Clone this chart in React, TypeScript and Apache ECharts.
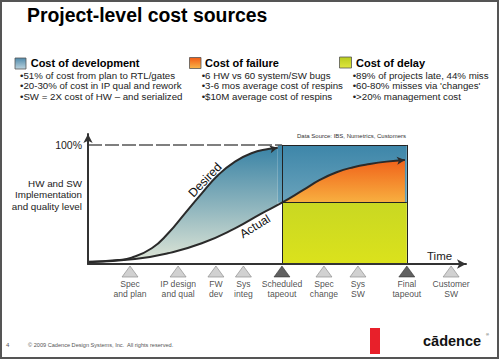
import React, { useEffect, useRef } from 'react';
import * as echarts from 'echarts';

const FONT = '"Liberation Sans", Arial, Helvetica, sans-serif';

const titleText = 'Project-level cost sources';
const legendNames = ['Cost of development', 'Cost of failure', 'Cost of delay'];
const legendBullets = [
  ['•51% of cost from plan to RTL/gates', '•20-30% of cost in IP qual and rework', '•SW = 2X cost of HW – and serialized'],
  ['•6 HW vs 60 system/SW bugs', '•3-6 mos average cost of respins', '•$10M average cost of respins'],
  ['•89% of projects late, 44% miss', "•60-80% misses via 'changes'", '•>20% management cost'],
];
const yAxisTitle = 'HW and SW\nImplementation\nand quality level';
const sourceText = 'Data Source: IBS, Numetrics, Customers';

const milestoneNames = [
  'Spec\nand plan', 'IP design\nand qual', 'FW\ndev', 'Sys\ninteg', 'Scheduled\ntapeout',
  'Spec\nchange', 'Sys\nSW', 'Final\ntapeout', 'Customer\nSW',
];
const milestoneX = [11.0, 23.6, 33.5, 40.7, 50.8, 61.8, 70.7, 83.5, 95.1];
const milestoneDark = [false, false, false, false, true, false, false, true, false];

const desiredX = [0, 7.85, 11.4, 16.7, 21.0, 25.4, 29.8, 34.1, 38.5, 42.8, 47.2, 49.7];
const desiredY = [1.9, 3.4, 5.3, 13.2, 25.8, 42.6, 59.4, 74.8, 86.0, 93.0, 96.6, 97.7];
const actualX = [0, 12.3, 20.9, 29.8, 38.5, 45.5, 50.8, 56.4, 60.7, 65.1, 69.5, 73.8, 78.2, 83.0];
const actualY = [1.5, 4.2, 9.0, 17.4, 30.0, 42.6, 51.5, 62.2, 70.6, 77.1, 81.3, 84.0, 86.0, 87.4];

const fullLevel = 100;
const failureLevel = 51.5;

const vgrad = (a: string, b: string, mid?: string) =>
  new echarts.graphic.LinearGradient(0, 0, 0, 1,
    mid
      ? [{ offset: 0, color: a }, { offset: 0.5, color: mid }, { offset: 1, color: b }]
      : [{ offset: 0, color: a }, { offset: 1, color: b }]);

function buildOption() {
  const boxStart = milestoneX[4];
  const boxEnd = milestoneX[7];
  const pts = (xs: number[], ys: number[]) => xs.map((x, i) => [x, ys[i]]);
  const desiredPts = pts(desiredX, desiredY);
  const actualPts = pts(actualX, actualY);
  const actualLeft = actualPts.filter((p) => p[0] <= boxStart + 1e-6);
  const actualRight = actualPts.filter((p) => p[0] >= boxStart - 1e-6);

  const txt = (x: number, y: number, text: string, style: any = {}, extra: any = {}) => ({
    type: 'text', x, y, z: 100, ...extra,
    style: { text, fontFamily: FONT, fontSize: 10, fill: '#111', align: 'left', verticalAlign: 'middle', ...style },
  });

  const legendCols = [
    { sq: [15, 58, 11, 11], hx: 30.7, bx: 20, g: ['#4f8aab', '#bcd3de'] },
    { sq: [189.5, 57.5, 11.5, 11], hx: 205, bx: 201.7, g: ['#f25a14', '#f9b548'] },
    { sq: [339.5, 57, 12, 11], hx: 356, bx: 352.7, g: ['#b7cb1c', '#e0e640'] },
  ];

  const graphics: any[] = [
    {
      type: 'rect', z: 100, shape: { x: 1, y: 1, width: 497, height: 357 },
      style: { fill: 'none', stroke: '#555', lineWidth: 2 },
    },
    txt(27, 15, titleText, { fontSize: 19.4, fontWeight: 'bold', fill: '#000' }),
  ];
  legendCols.forEach((c, i) => {
    graphics.push({
      type: 'rect', z: 100, shape: { x: c.sq[0], y: c.sq[1], width: c.sq[2], height: c.sq[3] },
      style: { fill: vgrad(c.g[0], c.g[1]), stroke: '#555', lineWidth: 0.8 },
    });
    graphics.push(txt(c.hx, 62.7, legendNames[i], { fontSize: 11, fontWeight: 'bold', fill: '#000' }));
    legendBullets[i].forEach((b, j) => {
      graphics.push(txt(c.bx, 75 + j * 10.5, b, { fontSize: 9.7, fill: '#222' }));
    });
  });
  graphics.push(txt(82, 194.7, yAxisTitle, { fontSize: 9.8, align: 'right', lineHeight: 11.5, fill: '#222' }));
  graphics.push(txt(297, 136, sourceText, { fontSize: 6, fill: '#333' }));
  graphics.push(txt(427, 256, 'Time', { fontSize: 11.5, fill: '#222' }));
  graphics.push(txt(0, 0, 'Desired', { fontSize: 12.2, align: 'center', fill: '#111' }, { x: 205, y: 180, rotation: 0.808 }));
  graphics.push(txt(0, 0, 'Actual', { fontSize: 11.9, align: 'center', fill: '#111' }, { x: 255, y: 226.3, rotation: 0.555 }));
  graphics.push(txt(6, 345, '4', { fontSize: 6, fill: '#555' }));
  graphics.push(txt(28, 345, '© 2009 Cadence Design Systems, Inc.  All rights reserved.', { fontSize: 5.6, fill: '#555' }));
  graphics.push({ type: 'rect', z: 100, shape: { x: 370, y: 328, width: 10, height: 26 }, style: { fill: '#e8202a' } });
  graphics.push(txt(423, 341, 'cādence', { fontSize: 14.5, fontWeight: 'bold', fill: '#111' }));
  graphics.push(txt(486, 334, '®', { fontSize: 4, fill: '#111' }));

  const boxLine = { color: '#222', width: 1, type: 'solid' };

  return {
    animation: false,
    textStyle: { fontFamily: FONT },
    grid: { left: 88, right: 34, top: 134, bottom: 96, containLabel: false },
    xAxis: {
      type: 'value', min: 0, max: 99, z: 10,
      axisLine: { show: true, symbol: ['none', 'arrow'], symbolSize: [7, 9], lineStyle: { color: '#333', width: 2 } },
      axisTick: { show: false }, axisLabel: { show: false }, splitLine: { show: false },
    },
    yAxis: {
      type: 'value', min: 0, max: 109.2, z: 10,
      axisLine: { show: true, symbol: ['none', 'arrow'], symbolSize: [7, 9], lineStyle: { color: '#333', width: 2 } },
      axisTick: { show: false }, axisLabel: { show: false }, splitLine: { show: false },
    },
    graphic: graphics,
    series: [
      {
        name: 'Cost of development', type: 'line', data: desiredPts, smooth: true, symbol: 'none',
        lineStyle: { width: 0, opacity: 0 },
        areaStyle: { color: vgrad('#3b84a6', '#e2e8d8', '#8db4bd'), opacity: 1 },
        markArea: {
          silent: true,
          data: [
            [{ coord: [desiredX[desiredX.length - 1], fullLevel], itemStyle: { color: vgrad('#3d86a9', '#6aa3bb') } },
              { coord: [boxEnd, failureLevel] }],
            [{ coord: [boxStart, failureLevel], itemStyle: { color: vgrad('#c9d822', '#dbe21c') } },
              { coord: [boxEnd, 0] }],
          ],
        },
      },
      {
        name: 'mask', type: 'line', data: actualLeft, smooth: true, symbol: 'none',
        lineStyle: { width: 0, opacity: 0 }, areaStyle: { color: '#ffffff', opacity: 1 },
      },
      {
        name: 'Cost of failure', type: 'line', data: actualRight, smooth: true, symbol: 'none',
        lineStyle: { width: 0, opacity: 0 },
        areaStyle: { color: vgrad('#f0621a', '#f8b040'), origin: failureLevel, opacity: 1 },
      },
      {
        name: 'Desired', type: 'line', data: desiredPts, smooth: true, showSymbol: true,
        symbol: (_v: any, p: any) => (p.dataIndex === desiredX.length - 1 ? 'arrow' : 'none'),
        symbolSize: [6, 8], symbolRotate: -78,
        itemStyle: { color: '#2a2a2a' }, lineStyle: { color: '#2a2a2a', width: 2 },
      },
      {
        name: 'Actual', type: 'line', data: actualPts, smooth: true, showSymbol: true,
        symbol: (_v: any, p: any) => (p.dataIndex === actualX.length - 1 ? 'arrow' : 'none'),
        symbolSize: [6, 8], symbolRotate: -84,
        itemStyle: { color: '#2a2a2a' }, lineStyle: { color: '#2a2a2a', width: 2 },
      },
      {
        name: 'Milestones', type: 'scatter', clip: false, symbol: 'triangle', symbolSize: [16, 11],
        data: milestoneX.map((x, i) => ({
          value: [x, -6.3],
          itemStyle: milestoneDark[i]
            ? { color: '#3a3a3a', borderColor: '#222', borderWidth: 0.6 }
            : { color: '#c6c6c6', borderColor: '#8a8a8a', borderWidth: 0.8 },
        })),
        label: {
          show: true, position: 'bottom', distance: 2,
          formatter: (p: any) => milestoneNames[p.dataIndex],
          fontSize: 8.6, lineHeight: 10, color: '#222', fontFamily: FONT,
        },
        markLine: {
          silent: true, symbol: ['none', 'none'], label: { show: false }, lineStyle: boxLine,
          data: [
            [{ coord: [0, fullLevel], lineStyle: { color: '#555', width: 1.5, type: [14, 3] },
              label: { show: true, position: 'start', formatter: '100%', fontSize: 10.5, color: '#222', distance: 6, fontFamily: FONT } },
              { coord: [boxStart, fullLevel] }],
            [{ coord: [boxStart, 0] }, { coord: [boxStart, fullLevel] }],
            [{ coord: [boxEnd, 0] }, { coord: [boxEnd, fullLevel] }],
            [{ coord: [boxStart, fullLevel] }, { coord: [boxEnd, fullLevel] }],
            [{ coord: [boxStart, failureLevel] }, { coord: [boxEnd, failureLevel] }],
          ],
        },
      },
    ],
  };
}

export default function App() {
  const ref = useRef<HTMLDivElement>(null);
  useEffect(() => {
    if (!ref.current) return;
    const chart = echarts.init(ref.current, undefined, { renderer: 'svg' });
    chart.setOption(buildOption() as any);
    return () => chart.dispose();
  }, []);
  return (
    <div
      ref={ref}
      style={{ position: 'absolute', left: 0, top: 0, width: 500, height: 360, background: '#fff' }}
    />
  );
}
